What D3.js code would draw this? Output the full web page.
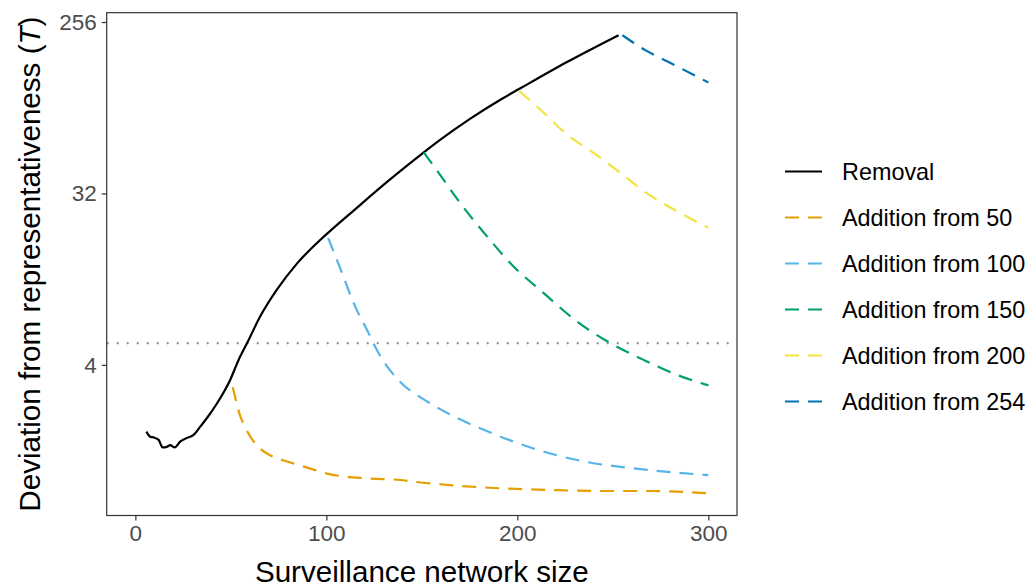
<!DOCTYPE html>
<html>
<head>
<meta charset="utf-8">
<script src="https://cdn.jsdelivr.net/npm/d3@7"></script>
<style>
  body { margin: 0; background: #fff; }
  svg { display: block; font-family: "Liberation Sans", Arial, sans-serif; }
</style>
</head>
<body>
<svg width="1030" height="587"></svg>
<script>
// data (x = network size, T = deviation)
const removalX = [5.8, 7.9, 9.5, 12.2, 14.3, 16.5, 18.3, 20.6, 23.6, 27.1, 30.5, 34, 37.5, 42.8, 49.7, 54.1, 58.5, 65.4, 74.2, 84.7, 96.9, 101.2, 114.3, 131.8, 149.2, 159.7, 175, 191.1, 201.6, 226, 253];
const removalT = [1.78, 1.67, 1.66, 1.61, 1.47, 1.48, 1.51, 1.47, 1.58, 1.65, 1.71, 1.89, 2.10, 2.51, 3.34, 4.26, 5.21, 7.21, 9.99, 13.7, 18.25, 19.97, 26.0, 36.8, 50.9, 61.4, 78.8, 99.7, 114.6, 157.6, 218.3];

const add50X = [51, 55, 57.6, 61.9, 66, 72.4, 79.4, 90, 100.4, 121.3, 138.7, 145.7, 164.9, 191, 217.3, 243.5, 269.6, 300];
const add50T = [3.05, 2.14, 1.87, 1.58, 1.43, 1.31, 1.24, 1.15, 1.07, 1.01, 0.99, 0.97, 0.93, 0.895, 0.877, 0.866, 0.866, 0.843];

const add100X = [101, 108.2, 114.3, 121.3, 128.3, 138.7, 152.7, 170.2, 182.4, 208.5, 234.7, 260.9, 300];
const add100T = [18.6, 12.2, 8.46, 6.10, 4.44, 3.25, 2.57, 2.06, 1.82, 1.45, 1.24, 1.14, 1.05];

const add150X = [151, 158.8, 170.2, 184.1, 198, 213.8, 231.2, 248.7, 266.1, 283.6, 300];
const add150T = [52.7, 41.1, 28.4, 19.0, 13.2, 9.55, 6.77, 5.21, 4.25, 3.54, 3.12];

const add200X = [201, 212, 226, 240, 253.9, 267.9, 281.8, 300];
const add200T = [110.6, 88.6, 65.3, 52.3, 41.1, 32.0, 26.4, 21.1];

const add254X = [255, 267, 278.4, 300];
const add254T = [218, 182, 159, 123];

const threshold = 5.2;
const xTicks = [0, 100, 200, 300];
const yTicks = [4, 32, 256];

const seriesNames = ['Removal', 'Addition from 50', 'Addition from 100', 'Addition from 150', 'Addition from 200', 'Addition from 254'];
const seriesColors = ['#000000', '#E69F00', '#56B4E9', '#009E73', '#F0E442', '#0072B2'];

const series = [
    [removalX, removalT], [add50X, add50T], [add100X, add100T],
    [add150X, add150T], [add200X, add200T], [add254X, add254T]
].map(([xs, ts], i) => ({
    name: seriesNames[i],
    color: seriesColors[i],
    dashed: i > 0,
    values: xs.map((x, j) => ({x: x, t: ts[j]}))
}));

const svg = d3.select('svg');

const panel = {left: 106.7, top: 12.7, right: 737, bottom: 515.5};

const xscale = d3.scaleLinear()
    .domain([-15, 315])
    .range([panel.left, panel.right]);

// log2 axis, ggplot style expansion around the data
const yscale = d3.scaleLog().base(2)
    .domain([Math.pow(2, -0.636), Math.pow(2, 8.163)])
    .range([panel.bottom, panel.top]);

const dash = '14,9';

// dotted threshold line
svg.append('line')
    .attr('x1', panel.left).attr('x2', panel.right)
    .attr('y1', yscale(threshold)).attr('y2', yscale(threshold))
    .attr('stroke', '#888').attr('stroke-width', 2)
    .attr('stroke-dasharray', '2,8');

const line = d3.line()
    .x(d => xscale(d.x))
    .y(d => yscale(d.t))
    .curve(d3.curveMonotoneX);

svg.append('g')
    .selectAll('path').data(series).enter()
    .append('path')
        .attr('d', d => line(d.values))
        .attr('fill', 'none')
        .attr('stroke', d => d.color)
        .attr('stroke-width', 2.2)
        .attr('stroke-dasharray', d => d.dashed ? dash : null);

// panel border
svg.append('rect')
    .attr('x', panel.left).attr('y', panel.top)
    .attr('width', panel.right - panel.left)
    .attr('height', panel.bottom - panel.top)
    .attr('fill', 'none').attr('stroke', '#333').attr('stroke-width', 1.2);

// axes
const xAxis = svg.append('g')
    .attr('transform', `translate(0, ${panel.bottom})`)
    .call(d3.axisBottom(xscale).tickValues(xTicks).tickSize(5).tickPadding(5).tickSizeOuter(0));

const yAxis = svg.append('g')
    .attr('transform', `translate(${panel.left}, 0)`)
    .call(d3.axisLeft(yscale).tickValues(yTicks).tickFormat(d3.format('d')).tickSize(5).tickPadding(5).tickSizeOuter(0));

[xAxis, yAxis].forEach(ax => {
    ax.select('.domain').remove();
    ax.selectAll('.tick line').attr('stroke', '#333').attr('stroke-width', 1.2);
    ax.selectAll('.tick text')
        .attr('fill', '#4D4D4D')
        .style('font-size', '22.5px')
        .style('font-family', '"Liberation Sans", Arial, sans-serif');
});

// axis titles
svg.append('text')
    .attr('x', (panel.left + panel.right) / 2)
    .attr('y', 582)
    .attr('text-anchor', 'middle')
    .style('font-size', '29.6px')
    .text('Surveillance network size');

const yTitle = svg.append('text')
    .attr('transform', `translate(40, ${(panel.top + panel.bottom) / 2}) rotate(-90)`)
    .attr('text-anchor', 'middle')
    .style('font-size', '29.6px');
yTitle.append('tspan').text('Deviation from representativeness (');
yTitle.append('tspan').style('font-style', 'italic').text('T');
yTitle.append('tspan').text(')');

// legend
const legend = svg.append('g');
const rowY = d3.scaleLinear().domain([0, 5]).range([171.5, 401.5]);

const rows = legend.selectAll('g').data(series).enter()
    .append('g')
        .attr('transform', (d, i) => `translate(0, ${rowY(i)})`);

rows.append('line')
    .attr('x1', 785).attr('x2', 822)
    .attr('stroke', d => d.color)
    .attr('stroke-width', 2.2)
    .attr('stroke-dasharray', d => d.dashed ? dash : null);

rows.append('text')
    .attr('x', 842)
    .attr('dy', '0.35em')
    .style('font-size', '23.4px')
    .text(d => d.name);
</script>
</body>
</html>
